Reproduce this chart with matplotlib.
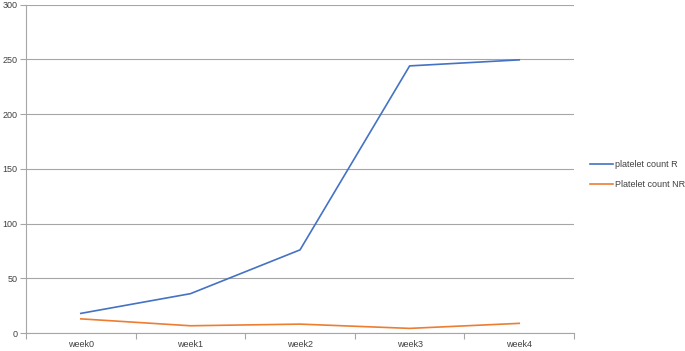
import matplotlib.pyplot as plt

weeks = ["week0", "week1", "week2", "week3", "week4"]
platelet_r = [18, 36, 76, 244, 249.5]
platelet_nr = [13, 6.7, 8.2, 4.3, 8.9]

plt.rcParams['font.family'] = ['Liberation Sans', 'DejaVu Sans']

fig = plt.figure(figsize=(6.85, 3.51), dpi=100)
ax = fig.add_axes([0.038, 0.051, 0.8, 0.936])

x = list(range(len(weeks)))
ax.plot(x, platelet_r, color='#4472C4', linewidth=1.2, label='platelet count R')
ax.plot(x, platelet_nr, color='#ED7D31', linewidth=1.2, label='Platelet count NR')

ax.set_xlim(-0.5, len(weeks) - 0.5)
ax.set_ylim(0, 300)
ax.set_yticks(range(0, 301, 50))
ax.set_xticks(x)
ax.set_xticklabels(weeks)
ax.set_xticks([i - 0.5 for i in range(len(weeks) + 1)], minor=True)
ax.tick_params(axis='x', which='major', length=0, pad=5, labelsize=6.5, colors='#404040')
ax.tick_params(axis='x', which='minor', length=4, color='#a6a6a6', width=0.8)
ax.tick_params(axis='y', length=4, color='#a6a6a6', width=0.8, labelsize=6.5, pad=2)
ax.tick_params(axis='y', colors='#a6a6a6', labelcolor='#404040')

ax.grid(axis='y', color='#a6a6a6', linewidth=0.8)
ax.set_axisbelow(True)
for s in ['top', 'right']:
    ax.spines[s].set_visible(False)
for s in ['left', 'bottom']:
    ax.spines[s].set_color('#a6a6a6')
    ax.spines[s].set_linewidth(0.8)

fig.legend(loc='center left', bbox_to_anchor=(0.85, 0.502), frameon=False,
           fontsize=6.5, handlelength=2.5, handletextpad=0.2, labelspacing=1.2,
           labelcolor='#404040')

plt.savefig("out.png", dpi=100)
